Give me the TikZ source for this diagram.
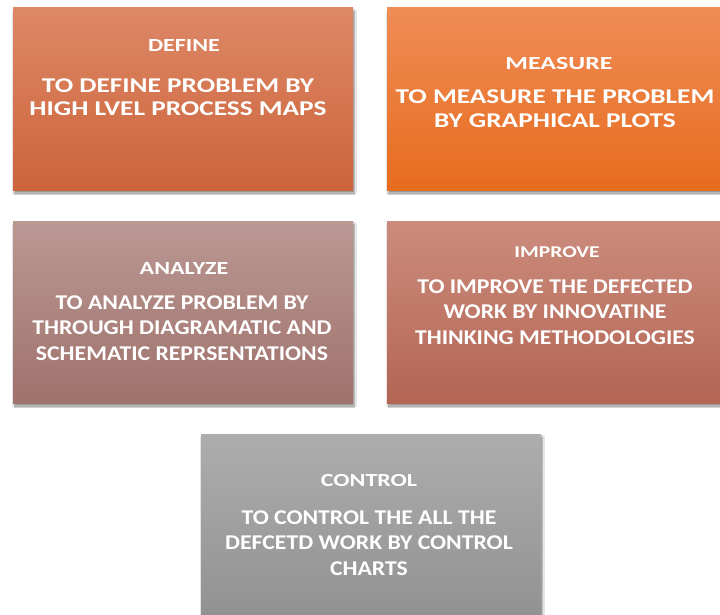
\documentclass[tikz,border=0pt]{standalone}
\usepackage{fontspec}
\newfontfamily\stagefont{Carlito}[FakeStretch=1.3]
\newfontfamily\wideStageFont{Carlito}[FakeStretch=1.4]
\newfontfamily\narrowStageFont{Carlito}[FakeStretch=1.13]
\usetikzlibrary{shadows.blur}
\definecolor{defineTop}{RGB}{221,136,102}
\definecolor{defineBot}{RGB}{204,100,60}
\definecolor{measureTop}{RGB}{240,140,86}
\definecolor{measureBot}{RGB}{230,108,30}
\definecolor{analyzeTop}{RGB}{186,152,147}
\definecolor{analyzeBot}{RGB}{160,114,108}
\definecolor{improveTop}{RGB}{203,140,125}
\definecolor{improveBot}{RGB}{180,101,84}
\definecolor{controlTop}{RGB}{173,173,173}
\definecolor{controlBot}{RGB}{146,146,146}
\tikzset{
  stage/.style={rectangle, minimum width=340pt, minimum height=182pt, inner sep=0pt,
    blur shadow={shadow xshift=1.5pt, shadow yshift=-3pt, shadow blur steps=6, shadow opacity=45}},
  title/.style={text=white, font=\stagefont\bfseries\fontsize{18.5}{22}\selectfont},
  body/.style={text=white, align=center, font=\stagefont\bfseries\fontsize{21}{25}\selectfont},
  narrow body/.style={body, font=\narrowStageFont\bfseries\fontsize{21}{25.5}\selectfont}
}
\begin{document}
\begin{tikzpicture}[x=1pt,y=-1pt]
    \useasboundingbox (0,0) rectangle (720,615);
    \clip (0,0) rectangle (720,615);
    \fill[white] (0,0) rectangle (720,615);
    \node[stage, top color=defineTop, bottom color=defineBot] (define) at (183,99) {};
    \node[stage, top color=measureTop, bottom color=measureBot] (measure) at (557,99) {};
    \node[stage, top color=analyzeTop, bottom color=analyzeBot] (analyze) at (183,312) {};
    \node[stage, top color=improveTop, bottom color=improveBot] (improve) at (557,312) {};
    \node[stage, top color=controlTop, bottom color=controlBot] (control) at (371,525) {};
    \node[title] (defineTitle) at (184,46) {DEFINE};
    \node[body, font=\stagefont\bfseries\fontsize{21}{23}\selectfont] (defineBody) at (178,97) {TO DEFINE PROBLEM BY\\HIGH LVEL PROCESS MAPS};
    \node[title, font=\wideStageFont\bfseries\fontsize{18.5}{22}\selectfont] (measureTitle) at (559,64) {MEASURE};
    \node[body, font=\stagefont\bfseries\fontsize{21}{24}\selectfont] (measureBody) at (555,109) {TO MEASURE THE PROBLEM\\BY GRAPHICAL PLOTS};
    \node[title] (analyzeTitle) at (184,269) {ANALYZE};
    \node[narrow body] (analyzeBody) at (182,328) {TO ANALYZE PROBLEM BY\\THROUGH DIAGRAMATIC AND\\SCHEMATIC REPRSENTATIONS};
    \node[title, font=\stagefont\bfseries\fontsize{16.5}{19}\selectfont] (improveTitle) at (557,252) {IMPROVE};
    \node[narrow body] (improveBody) at (555,312) {TO IMPROVE THE DEFECTED\\WORK BY INNOVATINE\\THINKING METHODOLOGIES};
    \node[title] (controlTitle) at (369,480) {CONTROL};
    \node[narrow body] (controlBody) at (369,543) {TO CONTROL THE ALL THE\\DEFCETD WORK BY CONTROL\\CHARTS};
\end{tikzpicture}
\end{document}
